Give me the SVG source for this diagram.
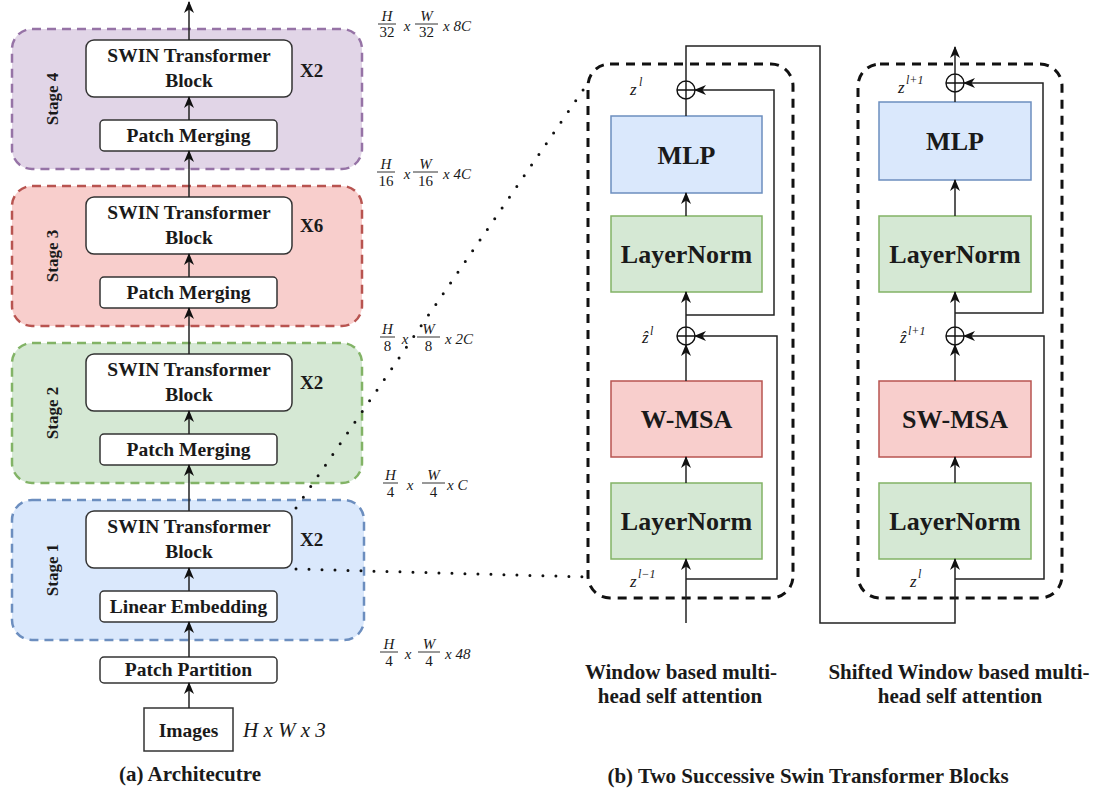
<svg xmlns="http://www.w3.org/2000/svg" width="1098" height="789" viewBox="0 0 1098 789" font-family="Liberation Serif, serif">
<style>
text{font-family:'Liberation Serif',serif;fill:#1a1a1a}
.box{fill:#fff;stroke:#333;stroke-width:1.5}
.t19{font-size:19.5px;font-weight:bold;text-anchor:middle}
.t26{font-size:26px;font-weight:bold;text-anchor:middle}
.cap{font-size:21px;font-weight:bold;text-anchor:middle}
.stg{font-size:17px;font-weight:bold;text-anchor:middle;dominant-baseline:central}
.xl{font-size:19px;font-weight:bold}
.it{font-style:italic}
.dim text{font-size:15px;font-style:italic;text-anchor:middle}
.dim .n{font-style:normal}
.dim line{stroke:#333;stroke-width:1}
.dim .tail{text-anchor:start}
.zl{font-size:17px;font-style:italic}
.sup{font-size:12px;font-style:italic}
.cont{stroke-width:2.5;stroke-dasharray:9 6}
.blk{fill:none;stroke:#111;stroke-width:3;stroke-dasharray:9 7}
.ln{fill:none;stroke:#222;stroke-width:1.5}
.arr{marker-end:url(#ah)}
.dot{fill:none;stroke:#111;stroke-width:3;stroke-linecap:round;stroke-dasharray:0 13}
.plus{fill:none;stroke:#111;stroke-width:1.4}
</style>
<defs>
<marker id="ah" viewBox="0 0 12 10" refX="11" refY="5" markerWidth="12" markerHeight="10" markerUnits="userSpaceOnUse" orient="auto">
<path d="M0,0 L12,5 L0,10 L3.5,5 z" fill="#111"/>
</marker>
</defs>

<!-- Stage containers -->
<g id="stage4"><rect class="cont" x="12" y="29" width="350" height="140" rx="20" fill="#e1d5e7" stroke="#9673a6"/>
<text class="stg" transform="translate(52,99) rotate(-90)">Stage 4</text></g>
<g id="stage3"><rect class="cont" x="12" y="186" width="350" height="140" rx="20" fill="#f8cecc" stroke="#b85450"/>
<text class="stg" transform="translate(52,256) rotate(-90)">Stage 3</text></g>
<g id="stage2"><rect class="cont" x="12" y="343" width="350" height="140" rx="20" fill="#d5e8d4" stroke="#82b366"/>
<text class="stg" transform="translate(52,413) rotate(-90)">Stage 2</text></g>
<g id="stage1"><rect class="cont" x="12" y="500" width="352" height="140" rx="20" fill="#dae8fc" stroke="#6c8ebf"/>
<text class="stg" transform="translate(52,570) rotate(-90)">Stage 1</text></g>

<!-- Left nodes -->
<g id="swin4"><rect class="box" x="86" y="40" width="206" height="57" rx="8"/>
<text class="t19" x="189" y="62">SWIN Transformer</text><text class="t19" x="189" y="87">Block</text>
<text class="xl" x="300" y="77">X2</text></g>
<g id="pm4"><rect class="box" x="100" y="120" width="177" height="31" rx="4"/><text class="t19" x="188.5" y="142">Patch Merging</text></g>

<g id="swin3"><rect class="box" x="86" y="197" width="206" height="57" rx="8"/>
<text class="t19" x="189" y="219">SWIN Transformer</text><text class="t19" x="189" y="244">Block</text>
<text class="xl" x="300" y="232">X6</text></g>
<g id="pm3"><rect class="box" x="100" y="277" width="177" height="31" rx="4"/><text class="t19" x="188.5" y="299">Patch Merging</text></g>

<g id="swin2"><rect class="box" x="86" y="354" width="206" height="57" rx="8"/>
<text class="t19" x="189" y="376">SWIN Transformer</text><text class="t19" x="189" y="401">Block</text>
<text class="xl" x="300" y="389">X2</text></g>
<g id="pm2"><rect class="box" x="100" y="434" width="177" height="31" rx="4"/><text class="t19" x="188.5" y="456">Patch Merging</text></g>

<g id="swin1"><rect class="box" x="86" y="511" width="206" height="57" rx="8"/>
<text class="t19" x="189" y="533">SWIN Transformer</text><text class="t19" x="189" y="558">Block</text>
<text class="xl" x="300" y="546">X2</text></g>
<g id="le1"><rect class="box" x="100" y="591" width="177" height="31" rx="4"/><text class="t19" x="188.5" y="613">Linear Embedding</text></g>

<g id="pp"><rect class="box" x="100" y="657" width="177" height="26" rx="4"/><text class="t19" x="188.5" y="676">Patch Partition</text></g>
<g id="img"><rect class="box" x="144" y="708" width="89" height="43"/><text class="t19" x="188.5" y="737">Images</text>
<text class="it" x="243" y="737" font-size="21">H x W x 3</text></g>

<!-- Dimension labels -->
<g id="dims" class="dim">
<g><text x="387" y="21">H</text><line x1="378" y1="24" x2="396" y2="24"/><text class="n" x="387" y="37">32</text>
<text x="407" y="31">x</text>
<text x="426.5" y="21">W</text><line x1="415" y1="24" x2="438" y2="24"/><text class="n" x="426.5" y="37">32</text>
<text class="tail" x="443" y="31">x 8C</text></g>
<g><text x="386" y="169">H</text><line x1="377" y1="172" x2="395" y2="172"/><text class="n" x="386" y="186">16</text>
<text x="407" y="179">x</text>
<text x="425.5" y="169">W</text><line x1="413" y1="172" x2="438" y2="172"/><text class="n" x="425.5" y="186">16</text>
<text class="tail" x="443" y="179">x 4C</text></g>
<g><text x="387.5" y="334">H</text><line x1="380" y1="337" x2="395" y2="337"/><text class="n" x="387.5" y="351">8</text>
<text x="405" y="344">x</text>
<text x="428.5" y="334">W</text><line x1="417" y1="337" x2="440" y2="337"/><text class="n" x="428.5" y="351">8</text>
<text class="tail" x="445" y="344">x 2C</text></g>
<g><text x="390.5" y="480">H</text><line x1="383" y1="483" x2="398" y2="483"/><text class="n" x="390.5" y="497">4</text>
<text x="410" y="490">x</text>
<text x="433.5" y="480">W</text><line x1="422" y1="483" x2="445" y2="483"/><text class="n" x="433.5" y="497">4</text>
<text class="tail" x="447" y="490">x C</text></g>
<g><text x="389" y="649">H</text><line x1="380" y1="652" x2="398" y2="652"/><text class="n" x="389" y="666">4</text>
<text x="408" y="659">x</text>
<text x="429" y="649">W</text><line x1="418" y1="652" x2="440" y2="652"/><text class="n" x="429" y="666">4</text>
<text class="tail" x="445" y="659">x 48</text></g>
</g>

<!-- Right blocks -->
<g id="block1">
<rect class="blk" x="588" y="64" width="205" height="534" rx="22"/>
<g id="mlp1"><rect x="611" y="116" width="151" height="77" fill="#dae8fc" stroke="#6c8ebf" stroke-width="1.5"/><text class="t26" x="686.5" y="164">MLP</text></g>
<g id="ln1b"><rect x="611" y="216" width="151" height="76" fill="#d5e8d4" stroke="#82b366" stroke-width="1.5"/><text class="t26" x="686.5" y="263">LayerNorm</text></g>
<g id="wmsa"><rect x="611" y="381" width="151" height="76" fill="#f8cecc" stroke="#b85450" stroke-width="1.5"/><text class="t26" x="686.5" y="428">W-MSA</text></g>
<g id="ln1a"><rect x="611" y="483" width="151" height="76" fill="#d5e8d4" stroke="#82b366" stroke-width="1.5"/><text class="t26" x="686.5" y="530">LayerNorm</text></g>
<g id="add1b"><circle class="plus" cx="686" cy="90" r="9"/><path class="plus" d="M677,90 H695 M686,81 V99"/></g>
<g id="add1a"><circle class="plus" cx="686" cy="336" r="9"/><path class="plus" d="M677,336 H695 M686,327 V345"/></g>
<text class="zl" x="630" y="95">z</text><text class="sup" x="639" y="86">l</text>
<text class="zl" x="642" y="343">ẑ</text><text class="sup" x="650" y="335">l</text>
<text class="zl" x="630" y="587">z</text><text class="sup" x="638" y="578">l−1</text>
</g>

<g id="block2">
<rect class="blk" x="858" y="64" width="204" height="534" rx="22"/>
<g id="mlp2"><rect x="879" y="102" width="152" height="78" fill="#dae8fc" stroke="#6c8ebf" stroke-width="1.5"/><text class="t26" x="955" y="150">MLP</text></g>
<g id="ln2b"><rect x="879" y="216" width="152" height="76" fill="#d5e8d4" stroke="#82b366" stroke-width="1.5"/><text class="t26" x="955" y="263">LayerNorm</text></g>
<g id="swmsa"><rect x="879" y="381" width="152" height="76" fill="#f8cecc" stroke="#b85450" stroke-width="1.5"/><text class="t26" x="955" y="428">SW-MSA</text></g>
<g id="ln2a"><rect x="879" y="483" width="152" height="76" fill="#d5e8d4" stroke="#82b366" stroke-width="1.5"/><text class="t26" x="955" y="530">LayerNorm</text></g>
<g id="add2b"><circle class="plus" cx="955" cy="83" r="9"/><path class="plus" d="M946,83 H964 M955,74 V92"/></g>
<g id="add2a"><circle class="plus" cx="955" cy="336" r="9"/><path class="plus" d="M946,336 H964 M955,327 V345"/></g>
<text class="zl" x="898" y="93">z</text><text class="sup" x="906" y="84">l+1</text>
<text class="zl" x="900" y="343">ẑ</text><text class="sup" x="908" y="335">l+1</text>
<text class="zl" x="910" y="587">z</text><text class="sup" x="918" y="578">l</text>
</g>

<!-- Connectors -->
<g id="connectors">
<path class="ln arr" d="M189,40 V2"/>
<path class="ln arr" d="M189,120 V97"/>
<path class="ln arr" d="M189,197 V151"/>
<path class="ln arr" d="M189,277 V254"/>
<path class="ln arr" d="M189,354 V308"/>
<path class="ln arr" d="M189,434 V411"/>
<path class="ln arr" d="M189,511 V465"/>
<path class="ln arr" d="M189,591 V568"/>
<path class="ln arr" d="M189,657 V622"/>
<path class="ln arr" d="M189,708 V683"/>

<path class="ln arr" d="M686,623 V559"/>
<path class="ln arr" d="M686,483 V457"/>
<path class="ln arr" d="M686,381 V345"/>
<path class="ln arr" d="M686,327 V292"/>
<path class="ln arr" d="M686,216 V193"/>
<path class="ln" d="M686,116 V99"/>
<path class="ln arr" d="M686,579 H777 V336 H695"/>
<path class="ln arr" d="M686,315 H774 V90 H695"/>
<path class="ln arr" d="M686,81 V46 H820 V623 H955 V559"/>

<path class="ln arr" d="M955,483 V457"/>
<path class="ln arr" d="M955,381 V345"/>
<path class="ln arr" d="M955,327 V292"/>
<path class="ln arr" d="M955,216 V180"/>
<path class="ln" d="M955,102 V92"/>
<path class="ln arr" d="M955,579 H1044 V336 H964"/>
<path class="ln arr" d="M955,313 H1043 V83 H964"/>
<path class="ln arr" d="M955,74 V47"/>

<path class="dot" d="M296,508 L590,80"/>
<path class="dot" d="M296,569 L588,577"/>
</g>

<!-- Captions -->
<g id="captions">
<text class="cap" x="190" y="781">(a) Architecutre</text>
<text class="cap" x="681" y="679">Window based multi-</text>
<text class="cap" x="680" y="703">head self attention</text>
<text class="cap" x="959" y="679">Shifted Window based multi-</text>
<text class="cap" x="960" y="703">head self attention</text>
<text class="cap" x="808" y="783">(b) Two Successive Swin Transformer Blocks</text>
</g>
</svg>
